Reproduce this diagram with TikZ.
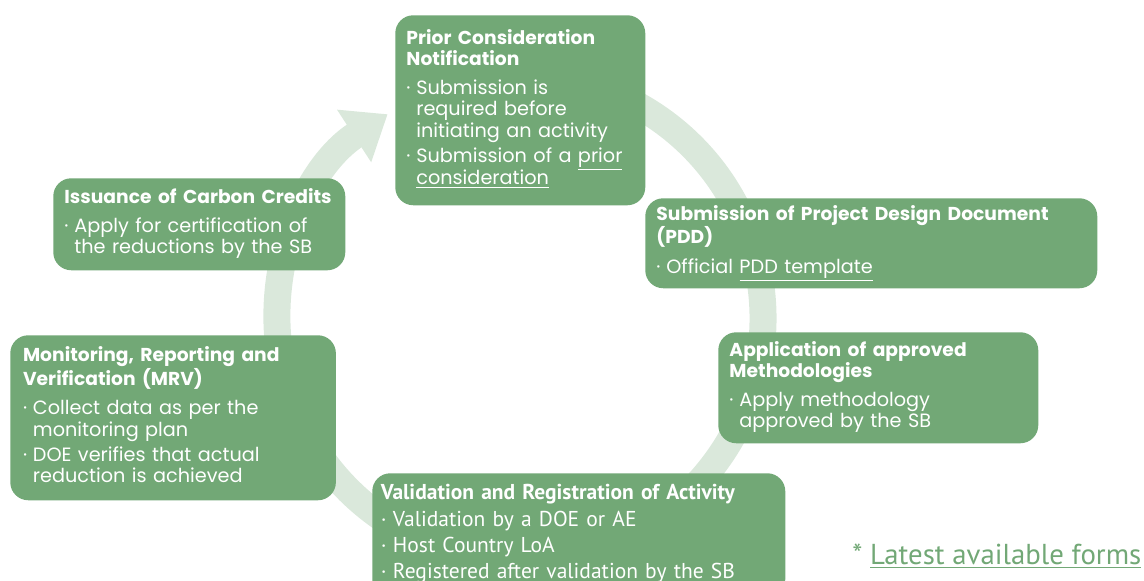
\documentclass[tikz,border=0pt]{standalone}
\usepackage{fontspec}
\setmainfont{Poppins}
\newfontfamily\narrowfont{PT Sans}
\usetikzlibrary{arrows.meta}
\definecolor{boxgreen}{RGB}{114,168,118}
\definecolor{ringgreen}{RGB}{218,232,219}
\newcommand{\bul}[1]{\textperiodcentered\hspace{0.3em}\begin{tabular}[t]{@{}l@{}}#1\end{tabular}}
\newcommand{\ttl}[1]{{\fontsize{13.3}{15}\selectfont\bfseries #1}}

\begin{document}
\begin{tikzpicture}
	\tikzset{stepbox/.style={rectangle, rounded corners=0.45cm, fill=boxgreen, text=white, anchor=north west, align=left, inner xsep=0.28cm, inner ysep=0pt, font=\fontsize{13.7}{15}\selectfont}}
	\useasboundingbox (0,0) rectangle (28.6,14.525);
	\clip (0,0) rectangle (28.6,14.525);

	% Cycle ring behind the steps
	\draw [ringgreen, line width=0.675cm, -{Triangle[width=1.5cm,length=1.0cm]}] (13.0,6.575) ++(100:6.075) arc [start angle=100, end angle=-237, radius=6.075];

	% Steps
	\node[stepbox, minimum width=6.25cm, minimum height=4.75cm, text width=5.69cm] at (9.875, 14.15) (prior) {\ttl{Prior Consideration}\\\ttl{Notification}\\[6pt]\bul{Submission is\\required before\\initiating an activity}\\[2pt]\bul{Submission of a \underline{prior}\\\underline{consideration}}};
	\node[stepbox, minimum width=11.3cm, minimum height=2.25cm, text width=10.74cm] at (16.125, 9.575) (pdd) {\ttl{Submission of Project Design Document}\\\ttl{(PDD)}\\[6pt]\bul{Official \underline{PDD template}}};
	\node[stepbox, minimum width=8.0cm, minimum height=2.775cm, text width=7.44cm] at (17.95, 6.225) (meth) {\ttl{Application of approved}\\\ttl{Methodologies}\\[6pt]\bul{Apply methodology\\approved by the SB}};
	\node[stepbox, minimum width=10.325cm, minimum height=3.1cm, text width=9.9cm, inner xsep=0.2cm, font=\narrowfont\fontsize{15.3}{18.5}\selectfont] at (9.3, 2.7) (valid) {\textbf{Validation and Registration of Activity}\\[1pt]\bul{Validation by a DOE or AE}\\\bul{Host Country LoA}\\\bul{Registered after validation by the SB}};
	\node[stepbox, minimum width=8.125cm, minimum height=4.125cm, text width=7.5cm, inner xsep=0.32cm] at (0.25, 6.15) (mrv) {\ttl{Monitoring, Reporting and}\\\ttl{Verification (MRV)}\\[6pt]\bul{Collect data as per the\\monitoring plan}\\[2pt]\bul{DOE verifies that actual\\reduction is achieved}};
	\node[stepbox, minimum width=7.3cm, minimum height=2.3cm, text width=6.74cm] at (1.325, 10.075) (issue) {\ttl{Issuance of Carbon Credits}\\[5pt]\bul{Apply for certification of\\the reductions by the SB}};

	% Footnote
	\node[anchor=base west, inner sep=0, text=boxgreen, font=\narrowfont\fontsize{20.5}{22}\selectfont] at (21.3, 0.4) (forms) {* \underline{Latest available forms}};
\end{tikzpicture}
\end{document}
